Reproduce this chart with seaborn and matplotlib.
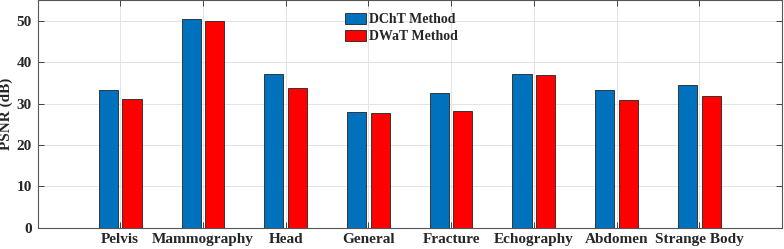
import seaborn as sns
import matplotlib.pyplot as plt
import pandas as pd

# datos
categorias = ["Pelvis", "Mammography", "Head", "General", "Fracture",
              "Echography", "Abdomen", "Strange Body"]
psnr_dcht = [33.4, 50.6, 37.1, 27.9, 32.7, 37.1, 33.4, 34.5]
psnr_dwat = [31.2, 50.1, 33.7, 27.7, 28.2, 37.0, 31.0, 32.0]
metodos = ["DChT Method", "DWaT Method"]
colores = ["#0072BD", "#FF0000"]

df = pd.DataFrame({
    "categoria": categorias * 2,
    "psnr": psnr_dcht + psnr_dwat,
    "metodo": [metodos[0]] * len(categorias) + [metodos[1]] * len(categorias),
})

sns.set_theme(style="white")
plt.rcParams["font.family"] = ["Liberation Serif", "DejaVu Serif"]
plt.rcParams["font.weight"] = "bold"

fig = plt.figure(figsize=(7.84, 2.49), dpi=100)
ax = fig.add_axes([37.5 / 784, 1 - 227.7 / 249, (782 - 37.5) / 784, 227.2 / 249])

sns.barplot(data=df, x="categoria", y="psnr", hue="metodo", order=categorias,
            hue_order=metodos, palette=colores, width=0.57, gap=0.19,
            edgecolor="#222222", linewidth=0.6, saturation=1, ax=ax, zorder=3)

ax.set_xlim(-1, 8)
ax.set_ylim(0, 55)
ax.set_yticks([0, 10, 20, 30, 40, 50])
ax.grid(True, color="#e3e3e3", linewidth=0.7, zorder=0)
ax.set_axisbelow(True)
ax.set_xlabel("")
ax.set_ylabel("PSNR (dB)", fontsize=11, fontweight="bold")
ax.yaxis.set_label_coords(-24 / 744.5, 0.5)
ax.tick_params(axis="both", direction="in", length=4, width=0.7, color="#404040",
               labelsize=11, pad=4, top=True, right=True, bottom=True, left=True)
for lab in ax.get_xticklabels() + ax.get_yticklabels():
    lab.set_fontweight("bold")
for s in ax.spines.values():
    s.set_visible(True)
    s.set_color("#555555")
    s.set_linewidth(0.8)

leg = ax.legend(loc="upper left", bbox_to_anchor=(342 / 784, 1 - 10 / 249),
                bbox_transform=fig.transFigure, frameon=False,
                prop={"size": 10, "weight": "bold"}, handlelength=1.5,
                handleheight=0.85, handletextpad=0.25, labelspacing=0.25,
                borderaxespad=0, borderpad=0.2)

fig.savefig("out.png", dpi=100)
